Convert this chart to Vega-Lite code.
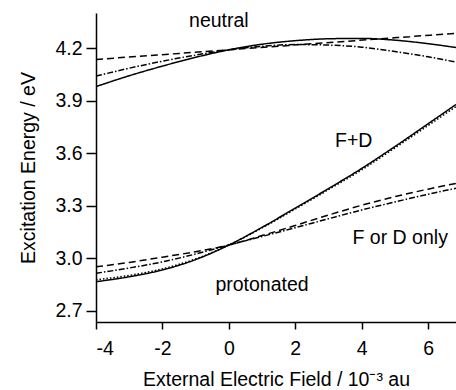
{
  "$schema": "https://vega.github.io/schema/vega-lite/v6.json",
  "width": 360,
  "height": 309,
  "autosize": {"type": "none"},
  "padding": {"left": 96, "top": 13, "right": 0, "bottom": 68},
  "background": "white",
  "config": {
    "view": {"stroke": null},
    "font": "Liberation Sans",
    "axis": {
      "grid": false,
      "domainColor": "black",
      "tickColor": "black",
      "labelColor": "black",
      "titleColor": "black",
      "labelFont": "Liberation Sans",
      "titleFont": "Liberation Sans",
      "labelFontSize": 19.5,
      "titleFontSize": 19.5,
      "titleFontWeight": "normal",
      "domainWidth": 1.5,
      "tickWidth": 1.5
    }
  },
  "layer": [
    {
      "data": {
        "values": [
          {"curve": "neutral-full", "style": "solid", "x": -4, "y": 3.98},
          {"curve": "neutral-full", "style": "solid", "x": -3, "y": 4.042},
          {"curve": "neutral-full", "style": "solid", "x": -2, "y": 4.097},
          {"curve": "neutral-full", "style": "solid", "x": -1, "y": 4.147},
          {"curve": "neutral-full", "style": "solid", "x": 0, "y": 4.19},
          {"curve": "neutral-full", "style": "solid", "x": 1, "y": 4.222},
          {"curve": "neutral-full", "style": "solid", "x": 2, "y": 4.242},
          {"curve": "neutral-full", "style": "solid", "x": 3, "y": 4.253},
          {"curve": "neutral-full", "style": "solid", "x": 4, "y": 4.255},
          {"curve": "neutral-full", "style": "solid", "x": 5, "y": 4.245},
          {"curve": "neutral-full", "style": "solid", "x": 6, "y": 4.225},
          {"curve": "neutral-full", "style": "solid", "x": 6.84, "y": 4.203},
          {"curve": "neutral-linear", "style": "dashed", "x": -4, "y": 4.135},
          {"curve": "neutral-linear", "style": "dashed", "x": 0, "y": 4.19},
          {"curve": "neutral-linear", "style": "dashed", "x": 6.84, "y": 4.284},
          {"curve": "neutral-quad", "style": "dashdot", "x": -4, "y": 4.04},
          {"curve": "neutral-quad", "style": "dashdot", "x": -3, "y": 4.085},
          {"curve": "neutral-quad", "style": "dashdot", "x": -2, "y": 4.125},
          {"curve": "neutral-quad", "style": "dashdot", "x": -1, "y": 4.16},
          {"curve": "neutral-quad", "style": "dashdot", "x": 0, "y": 4.19},
          {"curve": "neutral-quad", "style": "dashdot", "x": 1, "y": 4.21},
          {"curve": "neutral-quad", "style": "dashdot", "x": 2, "y": 4.22},
          {"curve": "neutral-quad", "style": "dashdot", "x": 3, "y": 4.217},
          {"curve": "neutral-quad", "style": "dashdot", "x": 4, "y": 4.205},
          {"curve": "neutral-quad", "style": "dashdot", "x": 5, "y": 4.18},
          {"curve": "neutral-quad", "style": "dashdot", "x": 6, "y": 4.15},
          {"curve": "neutral-quad", "style": "dashdot", "x": 6.84, "y": 4.12},
          {"curve": "FD-full", "style": "solid", "x": -4, "y": 2.867},
          {"curve": "FD-full", "style": "solid", "x": -3, "y": 2.895},
          {"curve": "FD-full", "style": "solid", "x": -2, "y": 2.934},
          {"curve": "FD-full", "style": "solid", "x": -1, "y": 2.993},
          {"curve": "FD-full", "style": "solid", "x": 0, "y": 3.076},
          {"curve": "FD-full", "style": "solid", "x": 1, "y": 3.177},
          {"curve": "FD-full", "style": "solid", "x": 2, "y": 3.287},
          {"curve": "FD-full", "style": "solid", "x": 3, "y": 3.398},
          {"curve": "FD-full", "style": "solid", "x": 4, "y": 3.513},
          {"curve": "FD-full", "style": "solid", "x": 5, "y": 3.638},
          {"curve": "FD-full", "style": "solid", "x": 6, "y": 3.768},
          {"curve": "FD-full", "style": "solid", "x": 6.84, "y": 3.878},
          {"curve": "FD-approx", "style": "dotted", "x": -4, "y": 2.878},
          {"curve": "FD-approx", "style": "dotted", "x": -3, "y": 2.903},
          {"curve": "FD-approx", "style": "dotted", "x": -2, "y": 2.94},
          {"curve": "FD-approx", "style": "dotted", "x": -1, "y": 2.997},
          {"curve": "FD-approx", "style": "dotted", "x": 0, "y": 3.076},
          {"curve": "FD-approx", "style": "dotted", "x": 1, "y": 3.174},
          {"curve": "FD-approx", "style": "dotted", "x": 2, "y": 3.282},
          {"curve": "FD-approx", "style": "dotted", "x": 3, "y": 3.392},
          {"curve": "FD-approx", "style": "dotted", "x": 4, "y": 3.505},
          {"curve": "FD-approx", "style": "dotted", "x": 5, "y": 3.63},
          {"curve": "FD-approx", "style": "dotted", "x": 6, "y": 3.758},
          {"curve": "FD-approx", "style": "dotted", "x": 6.84, "y": 3.866},
          {"curve": "ForD-a", "style": "dashed", "x": -4, "y": 2.952},
          {"curve": "ForD-a", "style": "dashed", "x": -3, "y": 2.977},
          {"curve": "ForD-a", "style": "dashed", "x": -2, "y": 3.007},
          {"curve": "ForD-a", "style": "dashed", "x": -1, "y": 3.038},
          {"curve": "ForD-a", "style": "dashed", "x": 0, "y": 3.076},
          {"curve": "ForD-a", "style": "dashed", "x": 1, "y": 3.13},
          {"curve": "ForD-a", "style": "dashed", "x": 2, "y": 3.188},
          {"curve": "ForD-a", "style": "dashed", "x": 3, "y": 3.247},
          {"curve": "ForD-a", "style": "dashed", "x": 4, "y": 3.303},
          {"curve": "ForD-a", "style": "dashed", "x": 5, "y": 3.352},
          {"curve": "ForD-a", "style": "dashed", "x": 6, "y": 3.395},
          {"curve": "ForD-a", "style": "dashed", "x": 6.84, "y": 3.428},
          {"curve": "ForD-b", "style": "dashdot", "x": -4, "y": 2.915},
          {"curve": "ForD-b", "style": "dashdot", "x": -3, "y": 2.945},
          {"curve": "ForD-b", "style": "dashdot", "x": -2, "y": 2.98},
          {"curve": "ForD-b", "style": "dashdot", "x": -1, "y": 3.025},
          {"curve": "ForD-b", "style": "dashdot", "x": 0, "y": 3.076},
          {"curve": "ForD-b", "style": "dashdot", "x": 1, "y": 3.125},
          {"curve": "ForD-b", "style": "dashdot", "x": 2, "y": 3.175},
          {"curve": "ForD-b", "style": "dashdot", "x": 3, "y": 3.226},
          {"curve": "ForD-b", "style": "dashdot", "x": 4, "y": 3.276},
          {"curve": "ForD-b", "style": "dashdot", "x": 5, "y": 3.322},
          {"curve": "ForD-b", "style": "dashdot", "x": 6, "y": 3.366},
          {"curve": "ForD-b", "style": "dashdot", "x": 6.84, "y": 3.4}
        ]
      },
      "mark": {"type": "line", "color": "black", "strokeWidth": 1.5, "interpolate": "monotone", "clip": true},
      "encoding": {
        "x": {
          "field": "x", "type": "quantitative",
          "scale": {"domain": [-4, 6.84], "nice": false, "zero": false},
          "axis": {
            "values": [-4, -2, 0, 2, 4, 6],
            "labelExpr": "datum.value",
            "title": "External Electric Field / 10⁻³ au",
            "tickSize": 7,
            "labelPadding": 10,
            "titlePadding": 13
          }
        },
        "y": {
          "field": "y", "type": "quantitative",
          "scale": {"domain": [2.637, 4.4], "nice": false, "zero": false},
          "axis": {
            "values": [2.7, 3.0, 3.3, 3.6, 3.9, 4.2],
            "format": ".1f",
            "title": "Excitation Energy / eV",
            "tickSize": 10,
            "labelPadding": 4,
            "titlePadding": 16
          }
        },
        "detail": {"field": "curve"},
        "strokeDash": {
          "field": "style", "type": "nominal",
          "scale": {
            "domain": ["solid", "dashed", "dashdot", "dotted"],
            "range": [[1, 0], [7, 4], [6, 2, 1.5, 2], [1.5, 2]]
          },
          "legend": null
        }
      }
    },
    {
      "data": {
        "values": [
          {"label": "neutral", "x": -0.3, "y": 4.355},
          {"label": "F+D", "x": 3.76, "y": 3.67},
          {"label": "F or D only", "x": 5.16, "y": 3.116},
          {"label": "protonated", "x": 1.0, "y": 2.848}
        ]
      },
      "mark": {"type": "text", "font": "Liberation Sans", "fontSize": 19.5, "color": "black", "align": "center", "baseline": "middle"},
      "encoding": {
        "x": {"field": "x", "type": "quantitative"},
        "y": {"field": "y", "type": "quantitative"},
        "text": {"field": "label"}
      }
    }
  ]
}
